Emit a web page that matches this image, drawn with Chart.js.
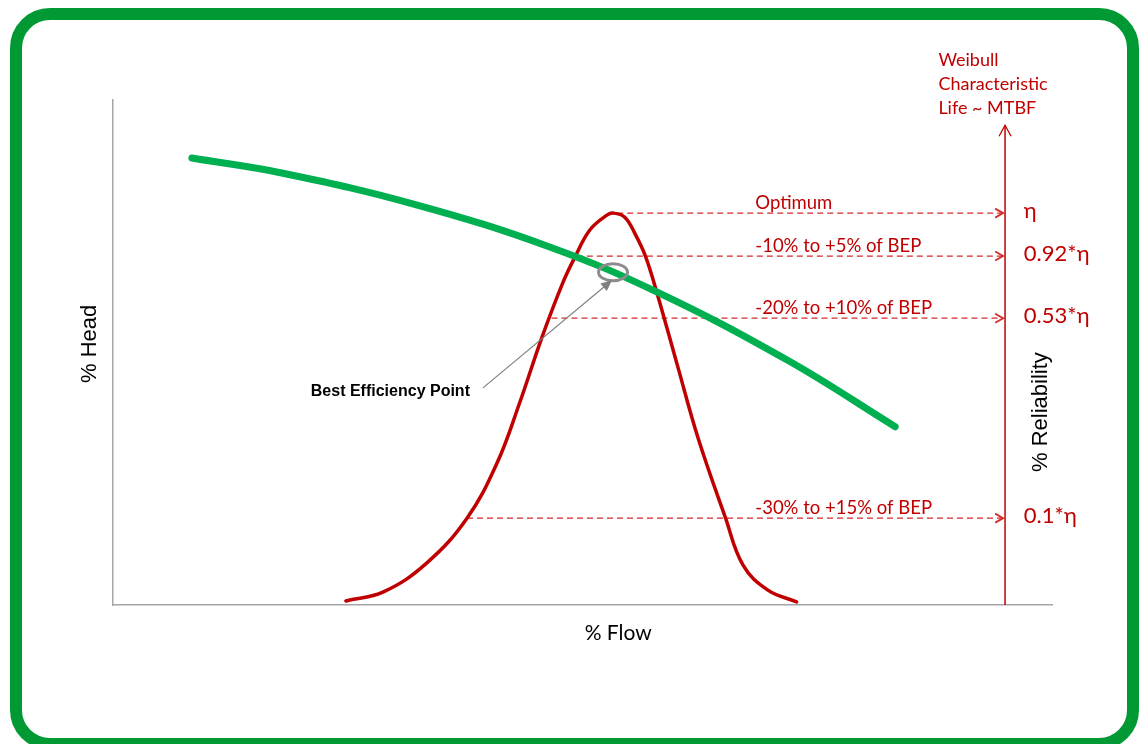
<!DOCTYPE html>
<html>
<head>
<meta charset="utf-8">
<script src="https://cdn.jsdelivr.net/npm/chart.js@4/dist/chart.umd.min.js"></script>
<style>
  html, body { margin: 0; padding: 0; background: #fff; overflow: hidden; }
  #frame {
    position: absolute; left: 10px; top: 8px; width: 1129px; height: 742px;
    box-sizing: border-box; border: 12px solid #009933; border-radius: 40px;
  }
  #wrap { position: absolute; left: 0; top: 0; width: 1144px; height: 744px; }
</style>
</head>
<body>
<div id="frame"></div>
<div id="wrap"><canvas id="bepChart"></canvas></div>
<script>
// pump head curve (% flow, % head)
var headFlow  = [8.4, 18.1, 32.4, 46.5, 57.9, 71.8, 83.3];
var headValue = [88.5, 85.5, 79.2, 70.9, 62.0, 48.5, 35.3];

// reliability bell curve (% flow, % reliability)
var relFlow  = [24.8, 28.8, 33.4, 37.7, 40.9, 43.3, 45.7, 47.9, 49.2, 50.8, 52.6, 53.3,
                54.5, 55.6, 56.7, 57.9, 60.1, 62.3, 65.2, 67.1, 69.7, 72.8];
var relValue = [0.8, 2.6, 8.3, 17.2, 28.1, 40.0, 53.1, 63.8, 68.9, 74.3, 77.2, 77.6,
                76.8, 73.5, 69.1, 62.0, 47.5, 33.1, 17.4, 7.9, 3.0, 0.6];

// operating bands
var bandLabels = ['Optimum', '-10% to +5% of BEP', '-20% to +10% of BEP', '-30% to +15% of BEP'];
var bandLevels = [77.6, 69.1, 56.8, 17.2];
var bandStart  = [53.7, 49.4, 46.7, 37.7];
var etaLabels  = ['η', '0.92*η', '0.53*η', '0.1*η'];

var reliabilityAxisX = 95;
var reliabilityAxisTop = 95;
var bandEnd = 94.8;
var bep = { x: 53.25, y: 65.9 };
var bepLabelAt = { x: 39.4, y: 43.0 };

var RED = '#c00000';

function pts(xs, ys) {
    return xs.map(function (x, i) { return { x: x, y: ys[i] }; });
}

var datasets = [{
    label: '% Head',
    data: pts(headFlow, headValue),
    borderColor: '#00b050',
    borderWidth: 7,
    borderCapStyle: 'round',
    tension: 0.4,
    showLine: true, pointRadius: 0, clip: false
}, {
    label: '% Reliability',
    data: pts(relFlow, relValue),
    borderColor: RED,
    borderWidth: 3.5,
    borderCapStyle: 'round',
    tension: 0.4,
    showLine: true, pointRadius: 0, clip: false
}, {
    label: 'reliability axis',
    data: [{ x: reliabilityAxisX, y: 0 }, { x: reliabilityAxisX, y: reliabilityAxisTop }],
    borderColor: RED, borderWidth: 1.5,
    showLine: true, pointRadius: 0, clip: false
}];

bandLevels.forEach(function (lvl, i) {
    datasets.push({
        label: bandLabels[i],
        data: [{ x: bandStart[i], y: lvl }, { x: bandEnd, y: lvl }],
        borderColor: '#d42b2b', borderWidth: 1.3, borderDash: [6, 4],
        showLine: true, pointRadius: 0, clip: false
    });
});

// labels, arrowheads and the BEP marker
var annotations = {
    id: 'annotations',
    afterDatasetsDraw: function (chart) {
        var c = chart.ctx;
        var X = function (v) { return chart.scales.x.getPixelForValue(v); };
        var Y = function (v) { return chart.scales.y.getPixelForValue(v); };
        c.save();

        // band arrowheads + labels
        c.strokeStyle = '#d42b2b';
        c.lineWidth = 1.8;
        bandLevels.forEach(function (lvl, i) {
            var ex = X(bandEnd), ey = Y(lvl);
            c.beginPath();
            c.moveTo(ex - 8, ey - 4.5); c.lineTo(ex, ey); c.lineTo(ex - 8, ey + 4.5);
            c.stroke();
            c.fillStyle = RED;
            c.font = '18.5px Lato';
            c.textAlign = 'left';
            c.textBaseline = 'alphabetic';
            c.fillText(bandLabels[i], X(68.4), ey - 4);
            c.font = '22px Lato';
            c.fillText(etaLabels[i], X(97.0), ey + 5);
        });

        // reliability axis arrow
        var ax = X(reliabilityAxisX), ay = Y(reliabilityAxisTop);
        c.strokeStyle = RED; c.lineWidth = 1.3;
        c.beginPath();
        c.moveTo(ax - 6, ay + 11); c.lineTo(ax, ay); c.lineTo(ax + 6, ay + 11);
        c.stroke();

        // Weibull caption
        c.fillStyle = RED;
        c.font = '18px Lato';
        ['Weibull', 'Characteristic', 'Life ~ MTBF'].forEach(function (t, i) {
            c.fillText(t, X(87.9), Y(106.7) + i * 24);
        });

        // BEP ellipse
        c.strokeStyle = '#8c8c8c'; c.lineWidth = 3;
        c.beginPath();
        c.ellipse(X(bep.x), Y(bep.y), 14.5, 8.5, 0, 0, Math.PI * 2);
        c.stroke();

        // BEP pointer arrow
        var sx = X(bepLabelAt.x), sy = Y(bepLabelAt.y);
        var tx = X(bep.x) - 1, ty = Y(bep.y) + 8;
        var ang = Math.atan2(ty - sy, tx - sx);
        c.strokeStyle = '#808080'; c.fillStyle = '#808080'; c.lineWidth = 1.2;
        c.beginPath(); c.moveTo(sx, sy);
        c.lineTo(tx - 9 * Math.cos(ang), ty - 9 * Math.sin(ang)); c.stroke();
        c.beginPath();
        c.moveTo(tx, ty);
        c.lineTo(tx - 11 * Math.cos(ang) + 5 * Math.sin(ang), ty - 11 * Math.sin(ang) - 5 * Math.cos(ang));
        c.lineTo(tx - 11 * Math.cos(ang) - 5 * Math.sin(ang), ty - 11 * Math.sin(ang) + 5 * Math.cos(ang));
        c.closePath(); c.fill();

        c.fillStyle = '#000';
        c.font = 'bold 16px "Liberation Sans"';
        c.textAlign = 'right';
        c.fillText('Best Efficiency Point', sx - 13, Y(41.4));

        // axis titles
        c.textAlign = 'center';
        c.font = '21px Lato';
        c.fillText('% Flow', X(53.8), Y(-6.9));

        c.font = '22px "Liberation Sans"';
        c.translate(X(-1.8), Y(51.7));
        c.rotate(-Math.PI / 2);
        c.fillText('% Head', 0, 0);
        c.setTransform(1, 0, 0, 1, 0, 0);
        c.translate(X(99.5), Y(38.2));
        c.rotate(-Math.PI / 2);
        c.fillText('% Reliability', 0, 0);

        c.restore();
    }
};

var ctx = document.getElementById('bepChart').getContext('2d');
var chart = new Chart(ctx, {
    type: 'scatter',
    data: { datasets: datasets },
    options: {
        responsive: true,
        maintainAspectRatio: false,
        animation: false,
        layout: { padding: { left: 113, right: 92, top: 100, bottom: 139 } },
        plugins: { legend: { display: false }, tooltip: { enabled: false } },
        scales: {
            x: {
                type: 'linear', min: 0, max: 100,
                grid: { display: false, drawTicks: false },
                ticks: { display: false },
                border: { color: '#a6a6a6', width: 1.5 }
            },
            y: {
                type: 'linear', min: 0, max: 100,
                grid: { display: false, drawTicks: false },
                ticks: { display: false },
                border: { color: '#a6a6a6', width: 1.5 }
            }
        }
    },
    plugins: [annotations]
});
</script>
</body>
</html>
